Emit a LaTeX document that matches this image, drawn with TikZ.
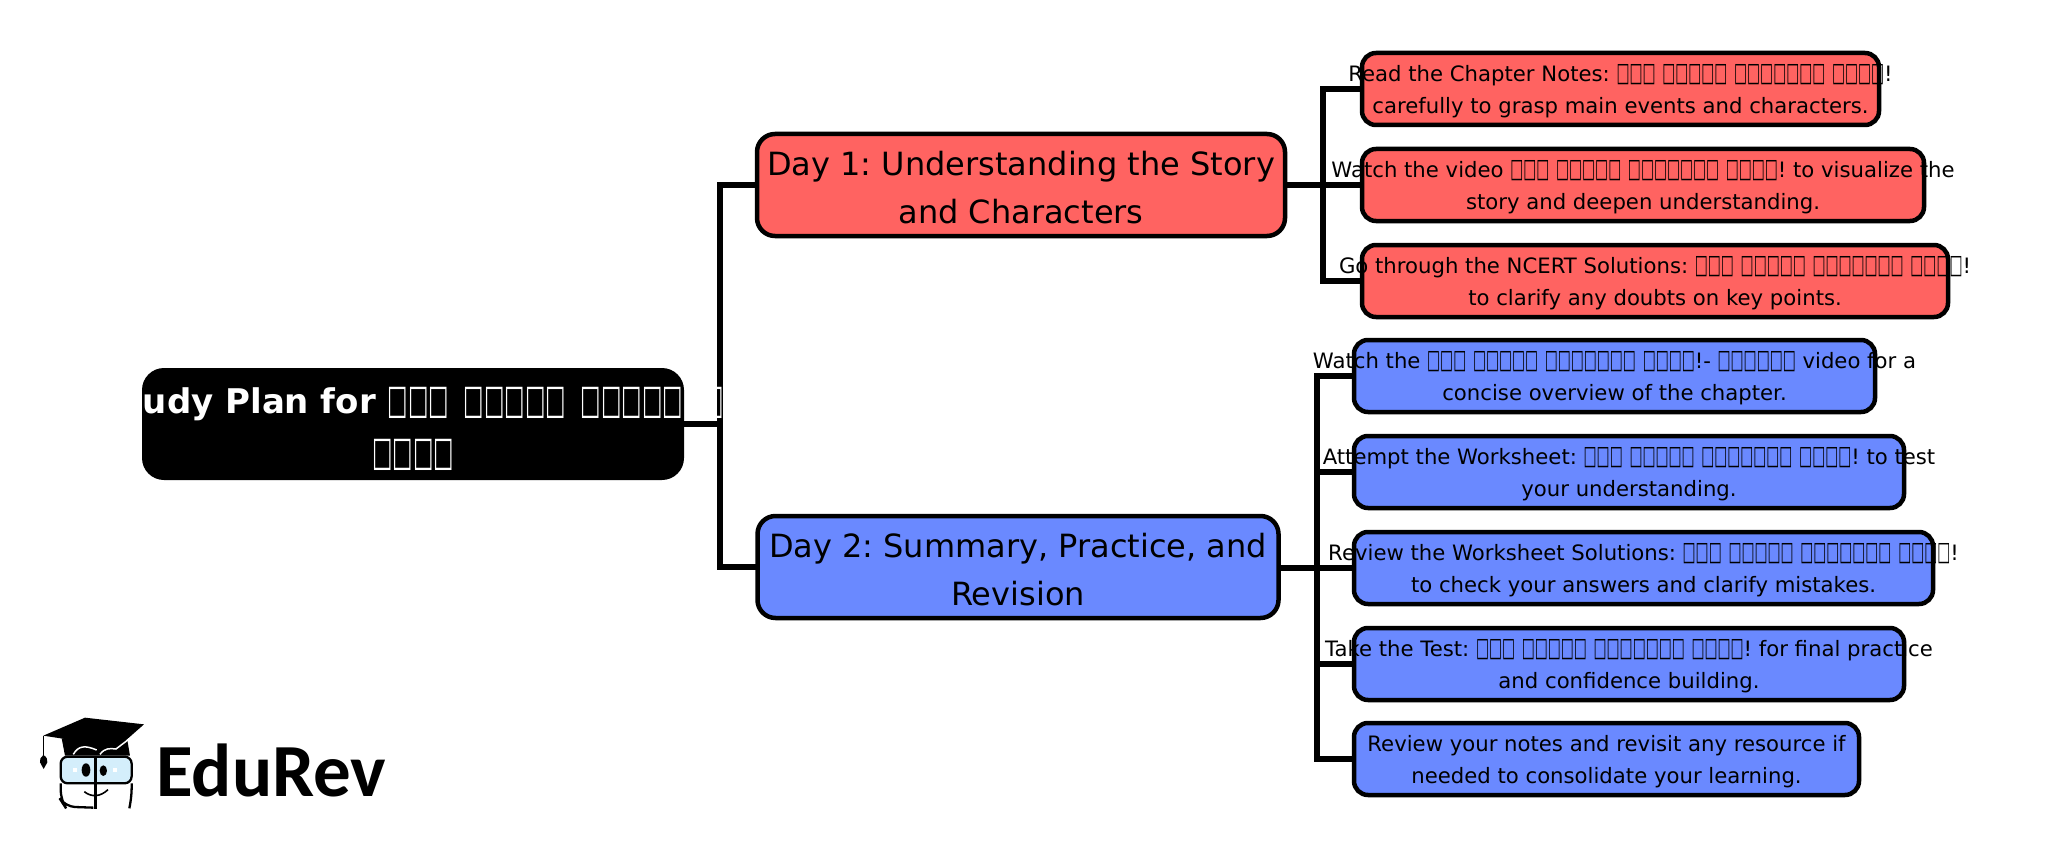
\documentclass[tikz,border=0pt]{standalone}
\usepackage{fontspec}
\setmainfont{DejaVu Sans}
\frenchspacing
\newfontfamily\tofufont[Scale=1.25,FakeStretch=0.52]{DejaVu Sans}
\newfontfamily\tofuroot[Scale=1.2,FakeStretch=0.53]{DejaVu Sans}
\newfontfamily\logofont{Carlito}
\newcommand{\tf}[1]{{\tofufont\mdseries\foreach \k in {1,...,#1}{□}}}
\newcommand{\tfr}[1]{{\tofuroot\mdseries\foreach \k in {1,...,#1}{□}}}
\newcommand{\hw}{\tf{3} \tf{5} \tf{7} \tf{4}}
\newcommand{\ctr}[1]{\hbox to 0pt{\hss #1\hss}}
\newcommand{\twolines}[4]{\ctr{\rule{0pt}{#1}#3}\\\ctr{\rule[-#2]{0pt}{#2}#4}}
\definecolor{redbox}{HTML}{FF6361}
\definecolor{bluebox}{HTML}{6A89FF}
\definecolor{lens}{HTML}{D4EEFB}
\tikzset{
  link/.style={draw=black,line width=6pt,line join=miter},
  boxbase/.style={draw=black,line width=4.5pt,rounded corners=14pt,inner sep=0pt,align=center,anchor=center},
  rootbox/.style={boxbase,fill=black,text=white,draw=none,rounded corners=22pt,font=\fontsize{34}{52}\selectfont\bfseries},
  dayred/.style={boxbase,fill=redbox,rounded corners=18pt,font=\fontsize{32}{48.5}\selectfont},
  dayblue/.style={boxbase,fill=bluebox,rounded corners=18pt,font=\fontsize{32}{48.5}\selectfont},
  leafred/.style={boxbase,fill=redbox,font=\fontsize{21.2}{32}\selectfont},
  leafblue/.style={boxbase,fill=bluebox,font=\fontsize{21.2}{32}\selectfont},
}
\newcommand{\leaf}[2]{\twolines{1.06em}{.24em}{#1}{#2}}
\newcommand{\dayt}[2]{\twolines{1.13em}{.23em}{#1}{#2}}
\begin{document}
\begin{tikzpicture}[x=1pt,y=-1pt]
\useasboundingbox (0,0) rectangle (2069,848);
% trunks
\coordinate (t0) at (720,424);
\coordinate (t1) at (1323,185);
\coordinate (t2) at (1317,568);
% connectors first, boxes over them
\coordinate (rootE) at (684,424);
\coordinate (d1W) at (757,185);
\coordinate (d2W) at (757,567);
\draw[link] (rootE) -- (t0);
\draw[link] (t0) |- (d1W);
\draw[link] (t0) |- (d2W);
\foreach \e/\ey in {a1/89,a2/185,a3/281} {\coordinate (\e) at (1362,\ey);\draw[link] (t1) |- (\e);}
\foreach \e/\ey in {b1/376,b2/472,b3/568,b4/664,b5/759} {\coordinate (\e) at (1354,\ey);\draw[link] (t2) |- (\e);}
\coordinate (d1E) at (1286,185);
\coordinate (d2E) at (1279,568);
\draw[link] (d1E) -- (t1);
\draw[link] (d2E) -- (t2);
% boxes
\node[rootbox,minimum width=542pt,minimum height=112pt] (root) at (413,424)
  {\twolines{1.12em}{.18em}{Study Plan for \tfr{3}\hspace{3pt} \tfr{5}\hspace{3pt} \tfr{7}}{\tfr{4}}};
\node[dayred,minimum width=528pt,minimum height=102pt] (day1) at (1021,185)
  {\dayt{Day 1: Understanding the Story}{and Characters}};
\node[dayblue,minimum width=521pt,minimum height=102pt] (day2) at (1018,567)
  {\dayt{Day 2: Summary, Practice, and}{Revision}};
\node[leafred,minimum width=517pt,minimum height=72pt] (r1) at (1620.5,89)
  {\leaf{Read the Chapter Notes: \hw!}{carefully to grasp main events and characters.}};
\node[leafred,minimum width=562pt,minimum height=72pt] (r2) at (1643,185)
  {\leaf{Watch the video \hw! to visualize the}{story and deepen understanding.}};
\node[leafred,minimum width=586pt,minimum height=72pt] (r3) at (1655,281)
  {\leaf{Go through the NCERT Solutions: \hw!}{to clarify any doubts on key points.}};
\node[leafblue,minimum width=521pt,minimum height=72pt] (l1) at (1614.5,376)
  {\leaf{Watch the \hw!- \tf{6} video for a}{concise overview of the chapter.}};
\node[leafblue,minimum width=550pt,minimum height=72pt] (l2) at (1629,472)
  {\leaf{Attempt the Worksheet: \hw! to test}{your understanding.}};
\node[leafblue,minimum width=579pt,minimum height=72pt] (l3) at (1643.5,568)
  {\leaf{Review the Worksheet Solutions: \hw!}{to check your answers and clarify mistakes.}};
\node[leafblue,minimum width=550pt,minimum height=72pt] (l4) at (1629,664)
  {\leaf{Take the Test: \hw! for final practice}{and confidence building.}};
\node[leafblue,minimum width=505pt,minimum height=72pt] (l5) at (1606.5,759)
  {\leaf{Review your notes and revisit any resource if}{needed to consolidate your learning.}};
% logo
\begin{scope}[shift={(30,705)},x=0.3333pt,y=-0.3333pt]
  \fill (95,100) -- (105,152) -- (300,152) -- (292,105) -- cycle;
  \fill (40,92) -- (165,38) -- (342,58) -- (258,132) -- (170,112) -- cycle;
  \draw[white,line width=1.5pt] (130,148) .. controls (145,122) and (165,120) .. (200,135);
  \draw[white,line width=1.5pt] (210,148) .. controls (225,128) and (240,130) .. (258,132) -- (300,100);
  \draw[line width=1.5pt] (40,92) -- (40,155);
  \fill (40,150) .. controls (50,155) and (54,165) .. (52,172) -- (41,192) -- (30,172) .. controls (28,165) and (32,155) .. (40,150) -- cycle;
  \draw[line width=2.3pt,fill=lens,rounded corners=7pt] (92,155) rectangle (305,235);
  \draw[line width=2.3pt,rounded corners=10pt] (190,308) -- (105,305) -- (92,285) -- (92,235);
  \draw[line width=2.3pt,rounded corners=10pt] (305,235) -- (305,280) -- (298,310);
  \draw[line width=2.5pt] (197,155) -- (197,312);
  \fill (168,195) ellipse [x radius=13,y radius=20];
  \fill (220,197) ellipse [x radius=11,y radius=16];
  \fill[white] (130,188) rectangle (142,200);
  \fill[white] (250,188) rectangle (262,200);
  \draw[line width=1.6pt] (163,260) .. controls (185,278) and (212,275) .. (234,254);
\end{scope}
\node[anchor=base west,inner sep=0pt,font=\logofont\bfseries\fontsize{75}{75}\selectfont] (brand) at (156,796) {EduRev};
\end{tikzpicture}
\end{document}
